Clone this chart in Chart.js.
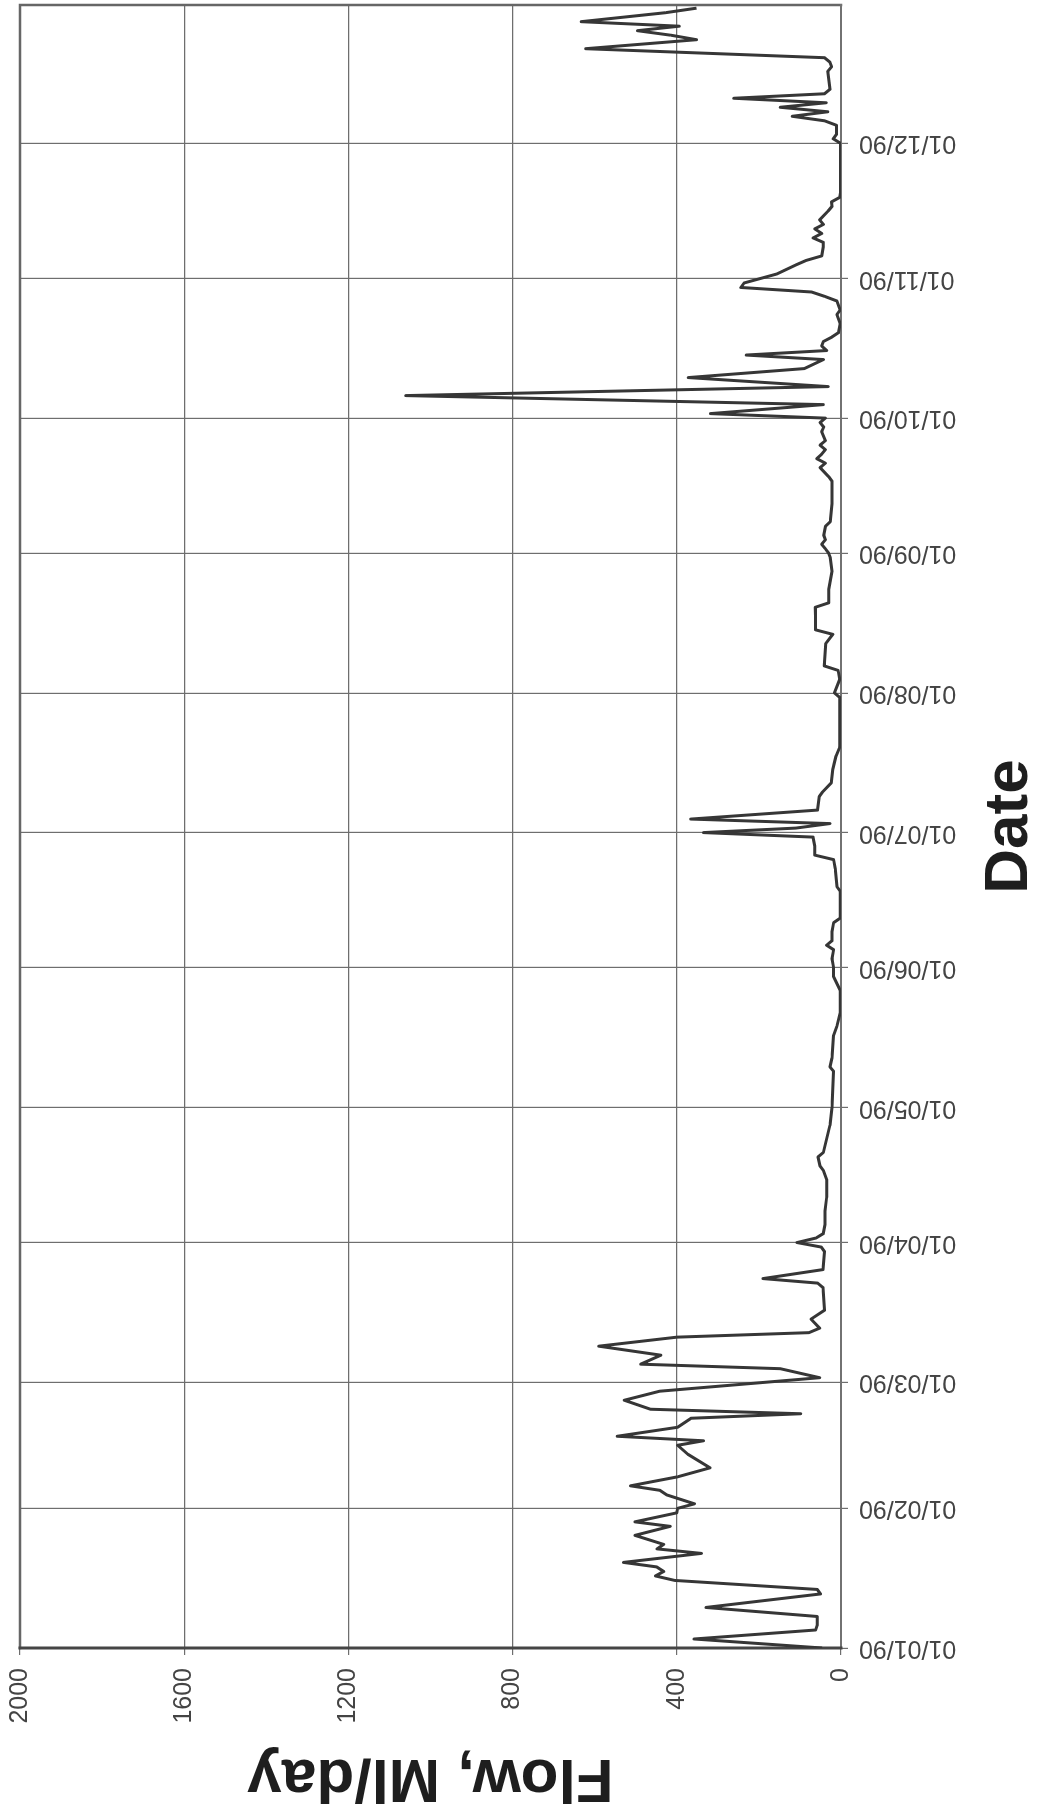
<!DOCTYPE html>
<html>
<head>
<meta charset="utf-8">
<title>Daily flow 1990</title>
<script src="https://cdn.jsdelivr.net/npm/chart.js@4/dist/chart.umd.min.js"></script>
<style>
  html, body { margin: 0; padding: 0; background: #ffffff; width: 1042px; height: 1812px; overflow: hidden; }
  /* the chart is laid out landscape and turned a quarter turn to sit upright on the page */
  #frame { position: absolute; left: 0; top: 0; width: 1812px; height: 1042px;
           transform-origin: 0 0; transform: translate(0, 1812px) rotate(-90deg); background: #ffffff; }
  canvas { display: block; }
</style>
</head>
<body>
<div id="frame"><canvas id="flowChart" width="1812" height="1042"></canvas></div>
<script>
// Day of year (0 = 1 Jan 1990) for each recorded flow value
const dayOfYear = [
  0, 2, 4, 5, 7, 9, 12, 13, 15, 16, 17, 18, 19, 21, 22, 23, 25, 27, 28, 30,
  31, 32, 34, 35, 36, 38, 40, 43, 45, 46, 47, 49, 51, 52, 53, 55, 57, 60, 62, 63,
  65, 67, 69, 70, 71, 73, 75, 80, 81, 82, 84, 88, 89, 90, 91, 92, 94, 97, 100, 104,
  106, 107, 109, 110, 116, 120, 128, 129, 131, 136, 138, 141, 146, 149, 151, 153, 155, 156, 157, 159,
  161, 162, 168, 169, 173, 175, 176, 178, 180, 181, 182, 183, 184, 186, 189, 190, 192, 195, 198, 200,
  211, 212, 215, 217, 218, 223, 225, 226, 229, 231, 232, 235, 239, 242, 243, 244, 245, 246, 247, 249,
  250, 254, 259, 260, 262, 263, 264, 265, 266, 267, 268, 270, 271, 272, 273, 274, 276, 278, 280, 282,
  284, 286, 287, 288, 289, 290, 291, 292, 294, 296, 297, 299, 300, 301, 302, 303, 305, 307, 308, 309,
  311, 312, 313, 314, 315, 316, 317, 319, 320, 321, 322, 323, 333, 334, 335, 336, 338, 339, 340, 341,
  342, 343, 344, 345, 346, 350, 351, 352, 353, 355, 357, 358, 359, 360, 361, 363, 364
];

// Flow, Ml/day
const flowMlDay = [
  46, 358, 62, 58, 58, 329, 50, 58, 405, 452, 432, 449, 530, 340, 448, 432, 502, 416, 502, 400,
  398, 357, 425, 441, 513, 398, 319, 373, 398, 335, 545, 398, 365, 98, 464, 528, 442, 52, 148, 488,
  439, 590, 400, 78, 52, 73, 40, 44, 57, 190, 44, 40, 48, 107, 61, 43, 39, 39, 35, 35,
  43, 51, 56, 43, 27, 22, 18, 27, 22, 18, 10, 2, 2, 18, 18, 22, 18, 35, 22, 22,
  18, 2, 2, 10, 14, 18, 64, 64, 68, 335, 110, 27, 366, 57, 53, 45, 24, 20, 12, 3,
  3, 16, 3, 7, 41, 37, 20, 62, 62, 63, 30, 30, 22, 26, 30, 38, 47, 38, 42, 38,
  26, 22, 22, 30, 51, 38, 59, 47, 38, 51, 38, 47, 42, 51, 38, 318, 43, 1060, 31, 372,
  89, 43, 231, 35, 47, 43, 22, 6, 2, 10, 2, 10, 39, 72, 244, 236, 156, 110, 85, 47,
  43, 43, 68, 47, 64, 43, 52, 31, 22, 23, 3, 1, 1, 1, 19, 11, 11, 40, 119, 32,
  148, 36, 261, 40, 27, 32, 23, 27, 40, 622, 352, 415, 496, 394, 633, 427, 352
];

// Date axis: first day of each month and its label
const monthStartDays = [0, 31, 59, 90, 120, 151, 181, 212, 243, 273, 304, 334];
const monthLabels = ['01/01/90', '01/02/90', '01/03/90', '01/04/90', '01/05/90', '01/06/90',
                     '01/07/90', '01/08/90', '01/09/90', '01/10/90', '01/11/90', '01/12/90'];

// Flow axis ticks
const flowTicks = [0, 400, 800, 1200, 1600, 2000];

const FONT = "'Liberation Sans', Arial, Helvetica, sans-serif";

// Frame round the plot area, drawn beneath the flow line
const plotFrame = {
  id: 'plotFrame',
  beforeDatasetsDraw(chart) {
    const { ctx, chartArea: a } = chart;
    ctx.save();
    ctx.lineCap = 'square';
    ctx.strokeStyle = '#666666';
    ctx.lineWidth = 2.5;
    ctx.beginPath();
    ctx.moveTo(a.left, a.top); ctx.lineTo(a.right, a.top); ctx.lineTo(a.right, a.bottom);
    ctx.stroke();
    ctx.strokeStyle = '#727272';
    ctx.lineWidth = 2;
    ctx.beginPath();
    ctx.moveTo(a.left, a.bottom); ctx.lineTo(a.right, a.bottom);
    ctx.stroke();
    ctx.strokeStyle = '#454545';
    ctx.lineWidth = 3;
    ctx.beginPath();
    ctx.moveTo(a.left, a.top); ctx.lineTo(a.left, a.bottom);
    ctx.stroke();
    ctx.restore();
  }
};

const points = dayOfYear.map((d, i) => ({ x: d, y: flowMlDay[i] }));

new Chart(document.getElementById('flowChart'), {
  type: 'line',
  data: {
    datasets: [{
      label: 'Flow',
      data: points,
      borderColor: '#363636',
      borderWidth: 3,
      pointRadius: 0,
      tension: 0,
      fill: false,
      borderJoinStyle: 'round'
    }]
  },
  options: {
    responsive: false,
    animation: false,
    devicePixelRatio: 1,
    layout: { padding: { top: 20, right: 5, bottom: 0, left: 0 } },
    plugins: { legend: { display: false }, tooltip: { enabled: false } },
    scales: {
      x: {
        type: 'linear',
        position: 'bottom',
        min: 0,
        max: 364.7,
        afterBuildTicks: (scale) => { scale.ticks = monthStartDays.map(v => ({ value: v })); },
        afterFit: (scale) => { scale.height = 201; scale.paddingRight = 0; },
        ticks: {
          autoSkip: false,
          minRotation: 90,
          maxRotation: 90,
          padding: 11,
          color: '#444444',
          font: { family: FONT, size: 25 },
          callback: (value) => monthLabels[monthStartDays.indexOf(value)]
        },
        grid: { color: '#6e6e6e', lineWidth: 1.2, tickLength: 7, drawTicks: true },
        border: { display: false },
        title: {
          display: true,
          text: 'Date',
          color: '#1e1e1e',
          font: { family: FONT, size: 62, weight: 'bold', lineHeight: 1 },
          padding: { top: 0, bottom: 1 }
        }
      },
      y: {
        type: 'linear',
        position: 'left',
        min: 0,
        max: 2000,
        afterBuildTicks: (scale) => { scale.ticks = flowTicks.map(v => ({ value: v })); },
        afterFit: (scale) => { scale.width = 164; scale.paddingTop = 0; scale.paddingBottom = 0; },
        ticks: {
          padding: 13,
          color: '#444444',
          font: { family: FONT, size: 25 },
          callback: (value) => String(value)
        },
        grid: { color: '#6e6e6e', lineWidth: 1.2, tickLength: 7, drawTicks: true },
        border: { display: false },
        title: {
          display: true,
          text: 'Flow, Ml/day',
          color: '#1e1e1e',
          font: { family: FONT, size: 62, weight: 'bold', lineHeight: 1 },
          padding: { top: 4, bottom: 0 }
        }
      }
    }
  },
  plugins: [plotFrame]
});
</script>
</body>
</html>
